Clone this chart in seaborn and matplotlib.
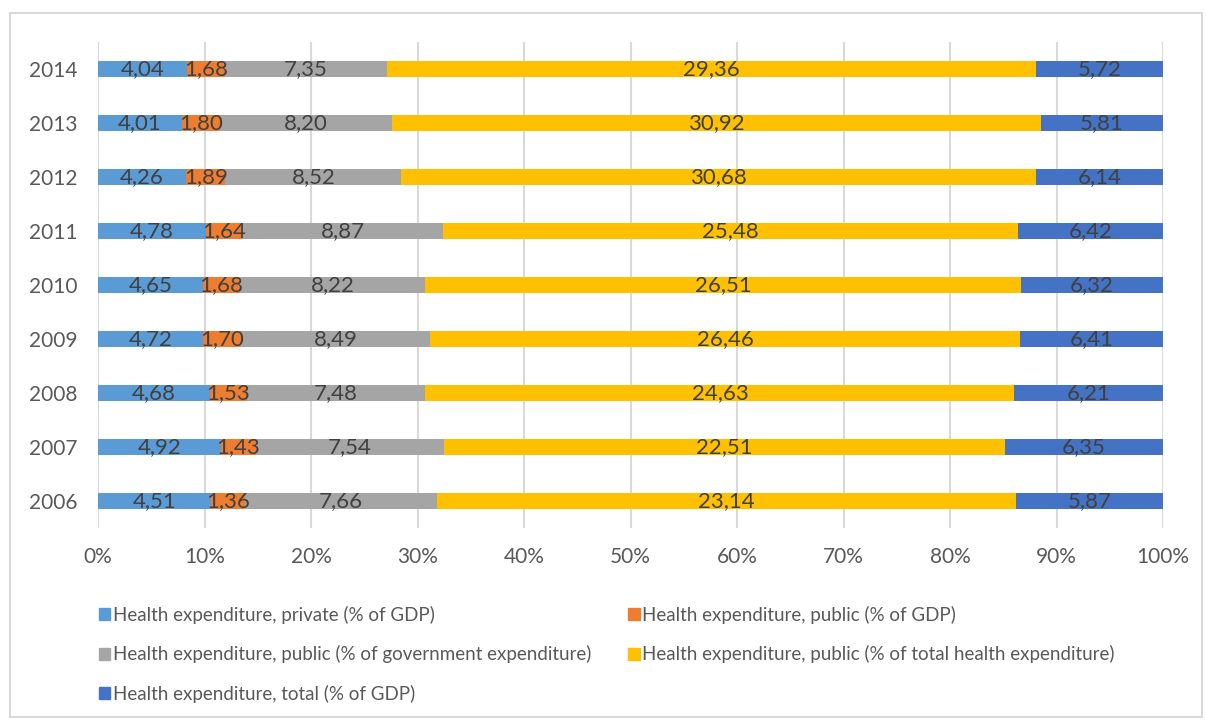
import pandas as pd
import numpy as np
import matplotlib.pyplot as plt
import matplotlib.patches as mpatches
import seaborn as sns

years = ['2014', '2013', '2012', '2011', '2010', '2009', '2008', '2007', '2006']
series = ['Health expenditure, private (% of GDP)',
          'Health expenditure, public (% of GDP)',
          'Health expenditure, public (% of government expenditure)',
          'Health expenditure, public (% of total health expenditure)',
          'Health expenditure, total (% of GDP)']
private_gdp = [4.04, 4.01, 4.26, 4.78, 4.65, 4.72, 4.68, 4.92, 4.51]
public_gdp = [1.68, 1.80, 1.89, 1.64, 1.68, 1.70, 1.53, 1.43, 1.36]
public_gov = [7.35, 8.20, 8.52, 8.87, 8.22, 8.49, 7.48, 7.54, 7.66]
public_total_health = [29.36, 30.92, 30.68, 25.48, 26.51, 26.46, 24.63, 22.51, 23.14]
total_gdp = [5.72, 5.81, 6.14, 6.42, 6.32, 6.41, 6.21, 6.35, 5.87]
colors = ['#5B9BD5', '#ED7D31', '#A5A5A5', '#FFC000', '#4472C4']

df = pd.DataFrame(dict(zip(series, [private_gdp, public_gdp, public_gov,
                                    public_total_health, total_gdp])), index=years)
pct = df.div(df.sum(axis=1), axis=0) * 100
cum = pct.cumsum(axis=1)

sns.set_style('white')
plt.rcParams['font.family'] = ['Lato', 'DejaVu Sans']

fig = plt.figure(figsize=(12.06, 7.2), dpi=100)
ax = fig.add_axes([98 / 1206, 1 - 528 / 720, 1065 / 1206, 486 / 720])

# stacked: draw the cumulative totals from the right-most series back
for name, color in reversed(list(zip(series, colors))):
    d = pd.DataFrame({'year': years, 'value': cum[name].values})
    sns.barplot(data=d, x='value', y='year', order=years, color=color,
                orient='h', width=0.31, saturation=1, linewidth=0,
                ax=ax, zorder=2)

for i, year in enumerate(years):
    for name in series:
        x = cum.loc[year, name] - pct.loc[year, name] / 2
        ax.text(x, i, f"{df.loc[year, name]:.2f}".replace('.', ','),
                ha='center', va='center', fontsize=16, color='#404040', zorder=3)

ax.set_xlim(0, 100)
ax.set_ylim(len(years) - 0.5, -0.5)
ax.set_xticks(np.arange(0, 101, 10))
ax.set_xticklabels([f"{t}%" for t in range(0, 101, 10)])
ax.tick_params(axis='both', length=0, labelsize=15, labelcolor='#595959')
ax.tick_params(axis='x', pad=14)
ax.tick_params(axis='y', pad=15)
ax.xaxis.grid(True, color='#D9D9D9', linewidth=1.5, zorder=0)
ax.set_axisbelow(True)
ax.set_xlabel('')
ax.set_ylabel('')
for s in ax.spines.values():
    s.set_visible(False)

handles = [mpatches.Patch(color=c, label=n) for n, c in zip(series, colors)]
order = [0, 2, 4, 1, 3]
fig.legend([handles[i] for i in order], [series[i] for i in order],
           ncol=2, loc='upper left', bbox_to_anchor=(91 / 1206, 1 - 598 / 720),
           frameon=False, fontsize=13.5, labelcolor='#595959',
           handlelength=0.6, handleheight=0.6, handletextpad=0.15,
           columnspacing=2.0, labelspacing=1.15, borderaxespad=0)

fig.patches.append(mpatches.Rectangle((10 / 1206, 3 / 720), 1192 / 1206, 704 / 720,
                                      transform=fig.transFigure, fill=False,
                                      edgecolor='#D9D9D9', linewidth=1.5))

fig.savefig('out.png', dpi=100)
